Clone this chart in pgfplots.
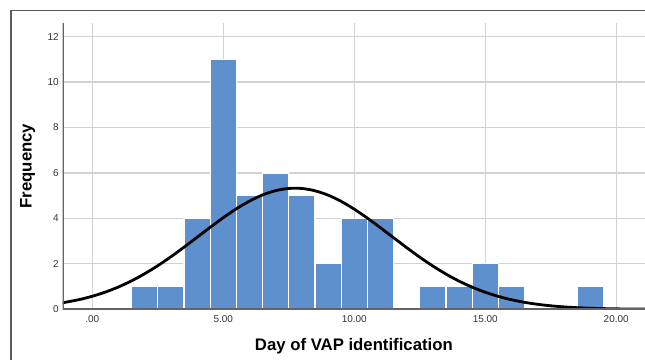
\documentclass[border=0pt]{standalone}
\usepackage{pgfplots}
\pgfplotsset{compat=1.18}
\usepackage{fontspec}
\setmainfont{Liberation Sans}
\definecolor{barblue}{RGB}{93,144,204}
\definecolor{gridgray}{RGB}{210,210,210}
\definecolor{axisgray}{RGB}{100,100,100}
\definecolor{framegray}{RGB}{90,90,90}
\begin{document}
\begin{tikzpicture}[x=1bp,y=1bp]
\useasboundingbox (0,0) rectangle (645,360);
\draw[framegray, line width=1.5bp] (11,0) -- (11,349.3) -- (645,349.3);
\begin{axis}[
  at={(62.7bp,50.7bp)}, anchor=south west,
  scale only axis, width=582.3bp, height=286.3bp,
  xmin=-1.13, xmax=21.1, ymin=0, ymax=12.6,
  axis line style={draw=none},
  clip=true,
  xtick={0,5,10,15,20},
  xticklabels={.00,5.00,10.00,15.00,20.00},
  ytick={0,2,4,6,8,10,12},
  grid=major,
  major grid style={gridgray, line width=1.2bp},
  tick style={draw=none},
  tick label style={font=\fontsize{10}{11}\selectfont, text=black!80},
  xticklabel style={yshift=-3bp},
  yticklabel style={xshift=-0.5bp},
  /pgf/number format/assume math mode=true,
  xlabel={\textbf{Day of VAP identification}},
  ylabel={\textbf{Frequency}},
  label style={font=\fontsize{16.8}{18}\selectfont},
  xlabel style={at={(0.5,0)}, anchor=north, yshift=-26bp},
  ylabel style={at={(0,0.5)}, anchor=south, yshift=24bp},
]
\addplot[ybar, bar width=1, bar shift=0, fill=barblue, draw=white, line width=1.2bp]
  coordinates {(2,1) (3,1) (4,4) (5,11) (6,5) (7,6) (8,5) (9,2) (10,4) (11,4) (13,1) (14,1) (15,2) (16,1) (19,1)};
\addplot[black, line width=2.8bp, smooth] coordinates {
(-1.2,0.273) (-0.5,0.427) (0,0.575) (0.5,0.759) (1,0.984) (1.5,1.253) (2,1.566) (2.5,1.920)
(3,2.312) (3.5,2.732) (4,3.169) (4.5,3.608) (5,4.032) (5.5,4.423) (6,4.762) (6.5,5.034)
(7,5.222) (7.5,5.319) (8,5.317) (8.5,5.217) (9,5.025) (9.5,4.750) (10,4.408) (10.5,4.015)
(11,3.590) (11.5,3.151) (12,2.715) (12.5,2.295) (13,1.905) (13.5,1.552) (14,1.241) (14.5,0.974)
(15,0.751) (15.5,0.568) (16,0.422) (16.5,0.307) (17,0.220) (17.5,0.154) (18,0.106) (18.5,0.072)
(19,0.048) (19.5,0.031) (20,0.020) (20.5,0.0125) (21,0.0077) (21.2,0.006)};
\draw[axisgray, line width=1.8bp] (rel axis cs:0,1) -- (rel axis cs:0,0) -- (rel axis cs:1,0);
\end{axis}
\end{tikzpicture}
\end{document}
